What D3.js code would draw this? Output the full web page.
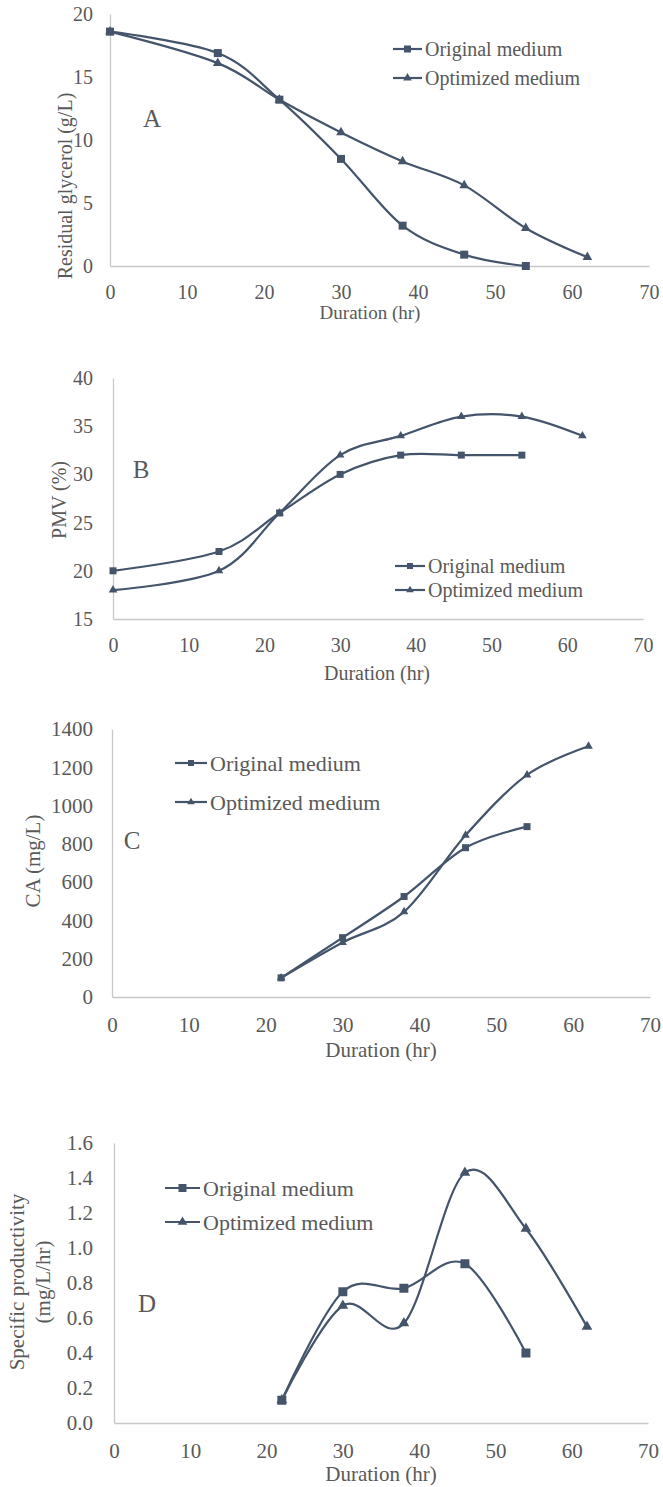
<!DOCTYPE html>
<html>
<head>
<meta charset="utf-8">
<script src="https://cdn.jsdelivr.net/npm/d3@7"></script>
<style>
  body { margin: 0; background: #fff; }
</style>
</head>
<body>
<div id="chart"></div>
<script>
// Duração (hr) dos pontos medidos
const hours = [0, 14, 22, 30, 38, 46, 54, 62];
const caHours = [22, 30, 38, 46, 54, 62];
const xTicks = [0, 10, 20, 30, 40, 50, 60, 70];
const seriesNames = ["Original medium", "Optimized medium"];

// A - glicerol residual (g/L)
const glycerolOriginal = [18.6, 16.9, 13.2, 8.5, 3.2, 0.9, 0.0];
const glycerolOptimized = [18.6, 16.1, 13.2, 10.6, 8.3, 6.4, 3.0, 0.7];
const glycerolTicks = [0, 5, 10, 15, 20];

// B - PMV (%)
const pmvOriginal = [20, 22, 26, 30, 32, 32, 32];
const pmvOptimized = [18, 20, 26, 32, 34, 36, 36, 34];
const pmvTicks = [15, 20, 25, 30, 35, 40];

// C - CA (mg/L)
const caOriginal = [100, 310, 525, 780, 890];
const caOptimized = [100, 285, 445, 845, 1160, 1310];
const caTicks = [0, 200, 400, 600, 800, 1000, 1200, 1400];

// D - produtividade especifica (mg/L/hr)
const spOriginal = [0.13, 0.75, 0.77, 0.91, 0.40];
const spOptimized = [0.13, 0.67, 0.57, 1.43, 1.11, 0.55];
const spTicks = [0, 0.2, 0.4, 0.6, 0.8, 1.0, 1.2, 1.4, 1.6];

const lineColor = "#44546A",
    axisColor = "#C8C8C8",
    textColor = "#595959",
    fontFamily = "'Liberation Serif', 'Times New Roman', 'DejaVu Serif', serif"

const panels = [
    {
        letter: "A", xs: hours, orig: glycerolOriginal, opt: glycerolOptimized,
        ticks: glycerolTicks, fmt: d3.format("d"),
        left: 110, right: 649, top: 14, bottom: 266, tickFont: 20,
        yTitle: ["Residual glycerol (g/L)"], yTitleX: [65], yTitleY: 186, titleFont: 20,
        xTitle: "Duration  (hr)", xTitleX: 370, xTitleY: 312, xTitleFont: 19,
        letterX: 152, letterY: 118,
        legend: { x1: 393, x2: 422, tx: 425, rows: [49, 78], font: 20 },
        mark: 8
    },
    {
        letter: "B", xs: hours, orig: pmvOriginal, opt: pmvOptimized,
        ticks: pmvTicks, fmt: d3.format("d"),
        left: 113, right: 643, top: 378, bottom: 619, tickFont: 20,
        yTitle: ["PMV (%)"], yTitleX: [59], yTitleY: 500, titleFont: 20,
        xTitle: "Duration (hr)", xTitleX: 377, xTitleY: 673, xTitleFont: 20,
        letterX: 141, letterY: 469,
        legend: { x1: 395, x2: 425, tx: 428, rows: [566, 590], font: 20 },
        mark: 7
    },
    {
        letter: "C", xs: caHours, orig: caOriginal, opt: caOptimized,
        ticks: caTicks, fmt: d3.format("d"),
        left: 112, right: 650, top: 729, bottom: 997, tickFont: 21,
        yTitle: ["CA (mg/L)"], yTitleX: [33], yTitleY: 861, titleFont: 21,
        xTitle: "Duration (hr)", xTitleX: 381, xTitleY: 1050, xTitleFont: 21,
        letterX: 132, letterY: 840,
        legend: { x1: 175, x2: 207, tx: 210, rows: [763, 802], font: 22 },
        mark: 7
    },
    {
        letter: "D", xs: caHours, orig: spOriginal, opt: spOptimized,
        ticks: spTicks, fmt: d3.format(".1f"),
        left: 114, right: 648, top: 1143, bottom: 1423, tickFont: 21,
        yTitle: ["Specific productivity", "(mg/L/hr)"], yTitleX: [17, 43], yTitleY: 1282, titleFont: 21,
        xTitle: "Duration (hr)", xTitleX: 381, xTitleY: 1474, xTitleFont: 21,
        letterX: 147, letterY: 1303,
        legend: { x1: 165, x2: 200, tx: 203, rows: [1188, 1222], font: 22 },
        mark: 9
    }
]

const svg = d3.select("#chart")
    .append("svg")
    .attr("width", 663)
    .attr("height", 1487)
    .style("font-family", fontFamily)

const square = s => d3.symbol(d3.symbolSquare, s * s)
const triangle = s => d3.symbol(d3.symbolTriangle, s * s * 0.5)

// Texto com fonte serifada
const label = (g, x, y, size, t) => g.append("text")
    .attr("x", x)
    .attr("y", y)
    .attr("dy", "0.35em")
    .style("font-family", fontFamily)
    .style("font-size", size + "px")
    .style("fill", textColor)
    .text(t)

panels.forEach(p => {
    const g = svg.append("g")
    const x = d3.scaleLinear().domain([0, 70]).range([p.left, p.right])
    const y = d3.scaleLinear().domain([p.ticks[0], p.ticks[p.ticks.length - 1]]).range([p.bottom, p.top])

    // Eixo X
    const xa = g.append("g")
        .attr("transform", "translate(0," + p.bottom + ")")
        .call(d3.axisBottom(x).tickValues(xTicks).tickSize(0).tickPadding(p.tickFont * 0.75 + 4).tickFormat(d3.format("d")))
    xa.select(".domain").attr("stroke", axisColor).attr("stroke-width", 1.3)

    // Eixo Y
    const ya = g.append("g")
        .attr("transform", "translate(" + p.left + ",0)")
        .call(d3.axisLeft(y).tickValues(p.ticks).tickSize(0).tickPadding(p.left - 93).tickFormat(p.fmt))
    ya.select(".domain").attr("stroke", axisColor).attr("stroke-width", 1.3)

    g.selectAll(".tick text")
        .style("font-size", p.tickFont + "px")
        .style("fill", textColor)
        .style("font-family", fontFamily)

    // Titulos
    p.yTitle.forEach((t, i) => {
        label(g, 0, 0, p.titleFont, t)
            .attr("transform", "translate(" + p.yTitleX[i] + "," + p.yTitleY + ") rotate(-90)")
            .attr("text-anchor", "middle")
    })
    label(g, p.xTitleX, p.xTitleY, p.xTitleFont, p.xTitle).attr("text-anchor", "middle")
    label(g, p.letterX, p.letterY, 25, p.letter).attr("text-anchor", "middle")

    // Linhas suavizadas
    const line = d3.line()
        .x(d => x(d[0]))
        .y(d => y(d[1]))
        .curve(d3.curveCardinal.tension(0))

    const series = [
        { pts: p.orig.map((v, i) => [p.xs[i], v]), sym: square(p.mark) },
        { pts: p.opt.map((v, i) => [p.xs[i], v]), sym: triangle(p.mark + 1) }
    ]
    series.forEach(s => {
        g.append("path")
            .attr("d", line(s.pts))
            .attr("fill", "none")
            .attr("stroke", lineColor)
            .attr("stroke-width", 2.2)
    })
    series.slice().reverse().forEach(s => {
        g.selectAll(null)
            .data(s.pts)
            .join("path")
            .attr("transform", d => "translate(" + x(d[0]) + "," + y(d[1]) + ")")
            .attr("d", s.sym)
            .attr("fill", lineColor)
    })

    // Legenda
    const L = p.legend
    seriesNames.forEach((name, i) => {
        const cy = L.rows[i]
        g.append("line")
            .attr("x1", L.x1).attr("x2", L.x2)
            .attr("y1", cy).attr("y2", cy)
            .attr("stroke", lineColor)
            .attr("stroke-width", 2.2)
        g.append("path")
            .attr("transform", "translate(" + ((L.x1 + L.x2) / 2) + "," + cy + ")")
            .attr("d", i === 0 ? square(p.mark - 1) : triangle(p.mark))
            .attr("fill", lineColor)
        label(g, L.tx, cy, L.font, name)
    })
})
</script>
</body>
</html>
